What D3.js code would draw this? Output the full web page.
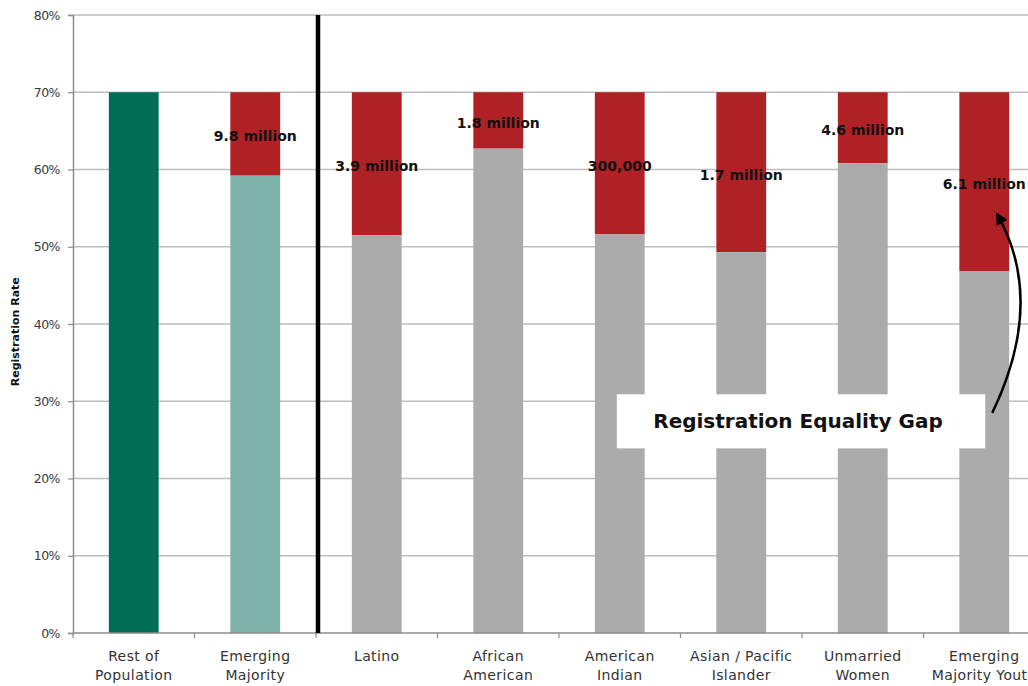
<!DOCTYPE html>
<html>
<head>
<meta charset="utf-8">
<script src="https://cdn.jsdelivr.net/npm/d3@7"></script>
<style>
  html, body { margin: 0; padding: 0; background: #fff; }
  svg { display: block; font-family: "DejaVu Sans", sans-serif; }
</style>
</head>
<body>
<svg id="chart" width="1028" height="686"></svg>
<script>
// categories (two-line tick labels)
var categories = [
  ["Rest of", "Population"],
  ["Emerging", "Majority"],
  ["Latino"],
  ["African", "American"],
  ["American", "Indian"],
  ["Asian / Pacific", "Islander"],
  ["Unmarried", "Women"],
  ["Emerging", "Majority Youth"]
];
// registration rate of each group
var registered = [0.70, 0.592, 0.515, 0.627, 0.516, 0.493, 0.608, 0.468];
// target rate (rest of population)
var target = [0.70, 0.70, 0.70, 0.70, 0.70, 0.70, 0.70, 0.70];
// gap labels (unregistered people)
var gapLabels = [null, "9.8 million", "3.9 million", "1.8 million", "300,000", "1.7 million", "4.6 million", "6.1 million"];
var yTicks = [0, 0.1, 0.2, 0.3, 0.4, 0.5, 0.6, 0.7, 0.8];

var svg = d3.select("#chart"),
  left = 73,
  step = 121.5,
  baseY = 633,
  topY = 15,
  colors = {
    rest: "#006e55",
    emerging: "#7eb3aa",
    group: "#ababab",
    gap: "#b02126",
    grid: "#bebebe",
    axis: "#8c8c8c"
  };

var keys = categories.map(function(c, i) { return "c" + i; });

var x = d3.scaleBand()
  .domain(keys)
  .range([left, left + step * keys.length])
  .paddingInner(0.59)
  .paddingOuter(0.295);

var y = d3.scaleLinear()
  .domain([0, 0.8])
  .range([baseY, topY]);

// grid lines
svg.append("g")
  .selectAll("line")
  .data(yTicks.slice(1))
  .join("line")
    .attr("x1", left)
    .attr("x2", 1028)
    .attr("y1", function(d) { return y(d); })
    .attr("y2", function(d) { return y(d); })
    .attr("stroke", colors.grid)
    .attr("stroke-width", 1.5);

// y axis
var yAxis = svg.append("g")
  .attr("transform", "translate(" + left + ",0)")
  .call(d3.axisLeft(y).tickValues(yTicks).tickFormat(d3.format(".0%")).tickSize(5).tickPadding(8));
yAxis.select(".domain").attr("stroke", colors.axis).attr("stroke-width", 1.5);
yAxis.selectAll(".tick line").attr("stroke", colors.axis).attr("stroke-width", 1.2);
yAxis.selectAll(".tick text")
  .attr("font-size", 12.5)
  .attr("font-family", "DejaVu Sans, sans-serif")
  .attr("letter-spacing", -0.5)
  .attr("fill", "#3a3a3a");

// y axis title
svg.append("text")
  .attr("transform", "translate(19," + (y(0.39)) + ") rotate(-90)")
  .attr("text-anchor", "middle")
  .attr("font-size", 11)
  .attr("font-weight", "bold")
  .attr("fill", "#111")
  .text("Registration Rate");

// bars
var bars = svg.append("g");
bars.selectAll("rect.gap")
  .data(keys)
  .join("rect")
    .attr("class", "gap")
    .attr("x", function(d) { return x(d); })
    .attr("width", x.bandwidth())
    .attr("y", function(d, i) { return y(target[i]); })
    .attr("height", function(d, i) { return y(registered[i]) - y(target[i]); })
    .attr("fill", colors.gap);

bars.selectAll("rect.reg")
  .data(keys)
  .join("rect")
    .attr("class", "reg")
    .attr("x", function(d) { return x(d); })
    .attr("width", x.bandwidth())
    .attr("y", function(d, i) { return y(registered[i]); })
    .attr("height", function(d, i) { return baseY - y(registered[i]); })
    .attr("fill", function(d, i) {
      return i === 0 ? colors.rest : (i === 1 ? colors.emerging : colors.group);
    });

// x axis
svg.append("line")
  .attr("x1", left).attr("x2", 1028)
  .attr("y1", baseY).attr("y2", baseY)
  .attr("stroke", colors.axis)
  .attr("stroke-width", 1.5);

svg.append("g")
  .selectAll("line")
  .data(d3.range(keys.length + 1))
  .join("line")
    .attr("x1", function(i) { return left + i * step; })
    .attr("x2", function(i) { return left + i * step; })
    .attr("y1", baseY)
    .attr("y2", baseY + 5)
    .attr("stroke", colors.axis)
    .attr("stroke-width", 1.2);

var catLabels = svg.append("g")
  .selectAll("text")
  .data(categories)
  .join("text")
    .attr("text-anchor", "middle")
    .attr("font-size", 14)
    .attr("letter-spacing", 0.4)
    .attr("fill", "#333")
    .attr("x", function(d, i) { return x(keys[i]) + x.bandwidth() / 2; });
catLabels.selectAll("tspan")
  .data(function(d) { return d; })
  .join("tspan")
    .attr("x", function() { return d3.select(this.parentNode).attr("x"); })
    .attr("y", function(d, j) { return 661 + j * 19; })
    .text(function(d) { return d; });

// divider between reference and groups
var divX = left + 2 * step + 2;
svg.append("line")
  .attr("x1", divX).attr("x2", divX)
  .attr("y1", topY).attr("y2", baseY)
  .attr("stroke", "#000")
  .attr("stroke-width", 4.5);

// gap labels
svg.append("g")
  .selectAll("text")
  .data(gapLabels)
  .join("text")
    .filter(function(d) { return d; })
    .attr("x", function(d) {
      var k = gapLabels.indexOf(d);
      return x(keys[k]) + x.bandwidth() / 2;
    })
    .attr("y", function(d) {
      var k = gapLabels.indexOf(d);
      return y((registered[k] + target[k]) / 2) + 7.5;
    })
    .attr("text-anchor", "middle")
    .attr("font-size", 14)
    .attr("font-weight", "bold")
    .attr("fill", "#111")
    .text(function(d) { return d; });

// annotation box
var last = keys[keys.length - 1],
  cx = x(last) + x.bandwidth() / 2;

svg.append("rect")
  .attr("x", x(keys[4]) + 22)
  .attr("y", y(0.309))
  .attr("width", cx + 1 - (x(keys[4]) + 22))
  .attr("height", y(0.239) - y(0.309))
  .attr("fill", "#fff");

svg.append("text")
  .attr("x", 798)
  .attr("y", y(0.274) + 7)
  .attr("text-anchor", "middle")
  .attr("font-size", 20)
  .attr("font-weight", "bold")
  .attr("fill", "#111")
  .text("Registration Equality Gap");

// arrow
svg.append("defs").append("marker")
  .attr("id", "arrowhead")
  .attr("viewBox", "0 0 10 10")
  .attr("refX", 8)
  .attr("refY", 5)
  .attr("markerWidth", 5)
  .attr("markerHeight", 5)
  .attr("orient", "auto")
  .append("path")
    .attr("d", "M0,0 L10,5 L0,10 z")
    .attr("fill", "#000");

var p = d3.path();
p.moveTo(cx + 8, y(0.285));
p.quadraticCurveTo(cx + 62, y(0.43), cx + 13, y(0.542));
svg.append("path")
  .attr("d", p.toString())
  .attr("fill", "none")
  .attr("stroke", "#000")
  .attr("stroke-width", 2.5)
  .attr("marker-end", "url(#arrowhead)");
</script>
</body>
</html>
